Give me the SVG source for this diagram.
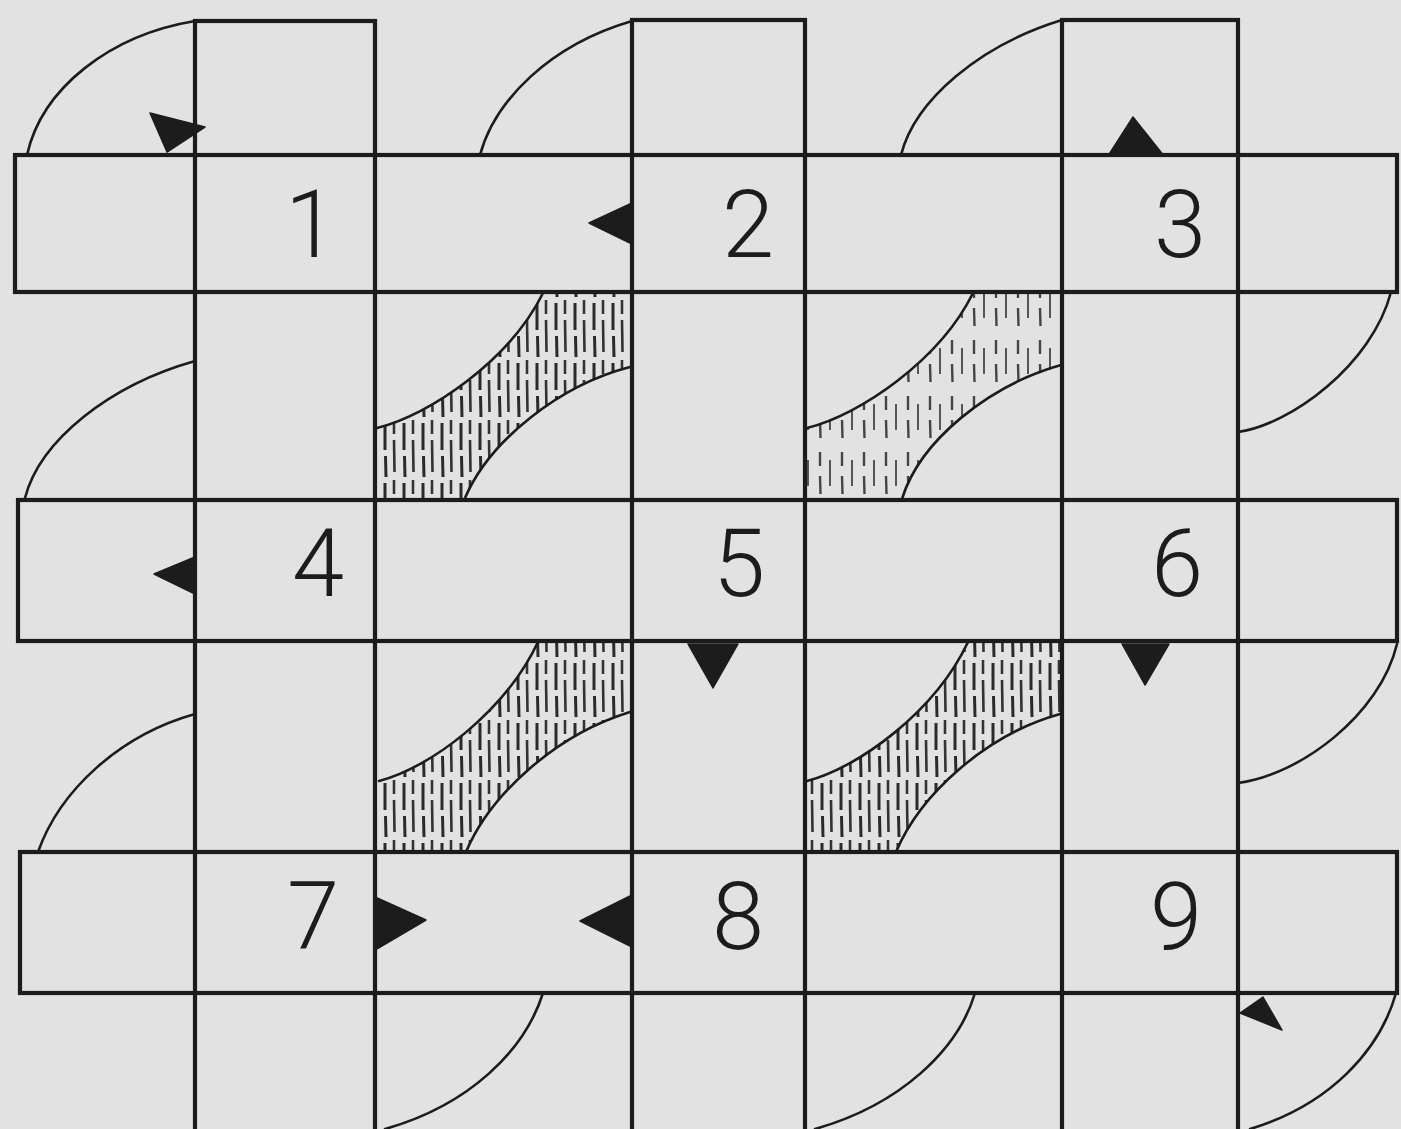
<svg xmlns="http://www.w3.org/2000/svg" width="1401" height="1129" viewBox="0 0 1401 1129">
<style>
.strip{fill:none;stroke:#1c1c1c;stroke-width:4.2;stroke-linejoin:miter}
.curve{fill:none;stroke:#1c1c1c;stroke-width:2.6;stroke-linecap:round}
.mark{fill:#1c1c1c;stroke:#1c1c1c;stroke-width:1.5;stroke-linejoin:round}
.num{font-family:Roboto,"Liberation Sans",Arial,sans-serif;font-weight:300;font-size:94px;fill:#1c1c1c;text-anchor:middle}
</style>
<defs>
<pattern id="hatch" patternUnits="userSpaceOnUse" width="19" height="60">
<line x1="5" y1="3" x2="5" y2="30" stroke="#2a2a2a" stroke-width="3"/>
<line x1="5.5" y1="36" x2="6" y2="57" stroke="#2a2a2a" stroke-width="3"/>
<line x1="14" y1="-8" x2="14" y2="14" stroke="#333" stroke-width="2.6"/>
<line x1="14" y1="20" x2="14.5" y2="52" stroke="#333" stroke-width="2.6"/>
</pattern>
<pattern id="hatch-light" patternUnits="userSpaceOnUse" width="22" height="56">
<line x1="6" y1="4" x2="6" y2="18" stroke="#444" stroke-width="2.4"/>
<line x1="6" y1="28" x2="6.5" y2="46" stroke="#444" stroke-width="2.4"/>
<line x1="16" y1="12" x2="16" y2="38" stroke="#555" stroke-width="2"/>
</pattern>
</defs>
<rect x="0" y="0" width="1401" height="1129" fill="#e2e2e2"/>

<g id="hatched-bands">
<path fill="url(#hatch)" d="M377,428 C430,415 510,360 543,294 L630,294 L630,367 C560,385 490,440 465,498 L377,498 Z"/>
<path fill="url(#hatch-light)" d="M807,428 C860,415 940,360 973,294 L1060,294 L1060,367 C990,385 920,440 902,498 L807,498 Z"/>
<path fill="url(#hatch)" d="M379,781 C430,768 505,712 538,643 L630,643 L630,713 C555,735 490,795 466,850 L379,850 Z"/>
<path fill="url(#hatch)" d="M807,781 C858,768 935,712 968,643 L1060,643 L1060,714 C985,735 920,795 896,850 L807,850 Z"/>
</g>

<g id="curves">
<path class="curve" d="M27,155 C42,88 110,35 195,21"/>
<path class="curve" d="M480,155 C495,100 550,45 632,21"/>
<path class="curve" d="M901,155 C915,100 980,45 1062,20"/>
<path class="curve" d="M25,498 C40,440 110,385 195,361"/>
<path class="curve" d="M377,428 C430,415 510,360 543,293"/>
<path class="curve" d="M465,498 C490,440 560,385 630,367"/>
<path class="curve" d="M807,428 C860,415 940,360 973,293"/>
<path class="curve" d="M902,499 C920,440 990,385 1061,365"/>
<path class="curve" d="M1238,432 C1290,425 1372,365 1391,292"/>
<path class="curve" d="M38,852 C60,790 120,735 195,714"/>
<path class="curve" d="M379,781 C430,768 505,712 538,642"/>
<path class="curve" d="M466,852 C490,795 555,735 630,712"/>
<path class="curve" d="M807,781 C858,768 935,712 968,642"/>
<path class="curve" d="M896,852 C920,795 985,735 1060,714"/>
<path class="curve" d="M1238,783 C1300,775 1380,715 1397,644"/>
<path class="curve" d="M543,993 C525,1050 470,1105 385,1129"/>
<path class="curve" d="M975,993 C958,1050 900,1105 815,1129"/>
<path class="curve" d="M1396,993 C1380,1050 1330,1105 1250,1129"/>
</g>

<g id="strips">
<rect id="col-a" class="strip" x="195" y="21" width="180" height="1120"/>
<rect id="col-b" class="strip" x="632" y="20" width="173" height="1120"/>
<rect id="col-c" class="strip" x="1062" y="20" width="176" height="1120"/>
<rect id="row-1" class="strip" x="15" y="155" width="1382" height="137"/>
<rect id="row-2" class="strip" x="18" y="500" width="1379" height="141"/>
<rect id="row-3" class="strip" x="20" y="852" width="1377" height="141"/>
</g>

<g id="markers">
<polygon class="mark" points="150,113 205,127 167,152"/>
<polygon class="mark" points="589,223 632,203 632,244"/>
<polygon class="mark" points="1133,117 1108,156 1164,156"/>
<polygon class="mark" points="154,574 195,557 195,594"/>
<polygon class="mark" points="688,644 738,644 713,688"/>
<polygon class="mark" points="1122,644 1169,644 1145,685"/>
<polygon class="mark" points="375,897 426,920 375,950"/>
<polygon class="mark" points="580,921 630,896 630,946"/>
<polygon class="mark" points="1240,1013 1263,997 1282,1030"/>
</g>

<g id="labels">
<text class="num" x="311" y="257">1</text>
<text class="num" x="748" y="257">2</text>
<text class="num" x="1180" y="257">3</text>
<text class="num" x="318" y="596">4</text>
<text class="num" x="739" y="596">5</text>
<text class="num" x="1177" y="596">6</text>
<text class="num" x="313" y="949">7</text>
<text class="num" x="738" y="949">8</text>
<text class="num" x="1176" y="949">9</text>
</g>
</svg>
